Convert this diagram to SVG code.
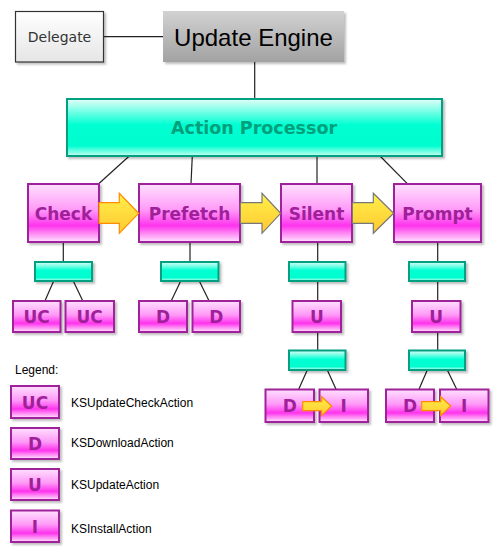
<svg xmlns="http://www.w3.org/2000/svg" width="502" height="556" viewBox="0 0 502 556">
<defs>
<linearGradient id="gMag" x1="0" y1="0" x2="0" y2="1">
<stop offset="0" stop-color="#ffe0ff"/>
<stop offset="0.45" stop-color="#ff99f7"/>
<stop offset="0.72" stop-color="#ff33ee"/>
<stop offset="0.85" stop-color="#ff88f4"/>
<stop offset="1" stop-color="#ffe4ff"/>
</linearGradient>
<linearGradient id="gTeal" x1="0" y1="0" x2="0" y2="1">
<stop offset="0" stop-color="#e4fff9"/>
<stop offset="0.45" stop-color="#00ffd2"/>
<stop offset="0.82" stop-color="#00fdd0"/>
<stop offset="1" stop-color="#ccfff2"/>
</linearGradient>
<linearGradient id="gGray" x1="0" y1="0" x2="0" y2="1">
<stop offset="0" stop-color="#d2d2d2"/>
<stop offset="1" stop-color="#a2a2a2"/>
</linearGradient>
<linearGradient id="gWhite" x1="0" y1="0" x2="0" y2="1">
<stop offset="0" stop-color="#ffffff"/>
<stop offset="1" stop-color="#e6e6e6"/>
</linearGradient>
<linearGradient id="gYel" x1="0" y1="0" x2="0" y2="1">
<stop offset="0" stop-color="#fff04a"/>
<stop offset="1" stop-color="#ffc830"/>
</linearGradient>
<filter id="sh" x="-10%" y="-10%" width="130%" height="140%">
<feDropShadow dx="2" dy="2" stdDeviation="1" flood-color="#000" flood-opacity="0.25"/>
</filter>
</defs>
<style>
.mag{fill:url(#gMag);stroke:#a0209a;stroke-width:2;filter:url(#sh)}
.teal{fill:url(#gTeal);stroke:#00a080;stroke-width:2;filter:url(#sh)}
.mt{font-family:"DejaVu Sans",Verdana,sans-serif;font-weight:bold;font-size:17px;fill:#a0209a;text-anchor:middle}
.lt{font-family:"Liberation Sans",Arial,sans-serif;font-size:12px;fill:#000}
.ln{stroke:#222;stroke-width:1.2;fill:none}
.arO{fill:url(#gYel);stroke:#ff8c00;stroke-width:1.2}
.arG{fill:url(#gYel);stroke:#777;stroke-width:1.2}
</style>
<rect width="502" height="556" fill="#fff"/>
<g id="connectors">
<line class="ln" x1="103.5" y1="36.7" x2="163" y2="36.7"/>
<line class="ln" x1="254.7" y1="62" x2="254.7" y2="99"/>
<line class="ln" x1="129.3" y1="156" x2="98.7" y2="183.7"/>
<line class="ln" x1="192.3" y1="156" x2="191" y2="183.7"/>
<line class="ln" x1="317" y1="156" x2="317" y2="183.7"/>
<line class="ln" x1="380" y1="156" x2="407.3" y2="183.7"/>
<line class="ln" x1="63.3" y1="242.3" x2="63.3" y2="261.7"/>
<line class="ln" x1="190" y1="242.3" x2="190" y2="261.7"/>
<line class="ln" x1="317.7" y1="242.3" x2="317.7" y2="261.7"/>
<line class="ln" x1="437.7" y1="242.3" x2="437.7" y2="261.7"/>
<line class="ln" x1="53.7" y1="281" x2="45" y2="300.7"/>
<line class="ln" x1="73.3" y1="281" x2="82.7" y2="300.7"/>
<line class="ln" x1="180.7" y1="281" x2="171.3" y2="300.7"/>
<line class="ln" x1="199.3" y1="281" x2="209" y2="300.7"/>
<line class="ln" x1="317.7" y1="281" x2="317.7" y2="300.7"/>
<line class="ln" x1="437.7" y1="281" x2="437.7" y2="300.7"/>
<line class="ln" x1="317.7" y1="332" x2="317.7" y2="350.3"/>
<line class="ln" x1="437.7" y1="332" x2="437.7" y2="350.3"/>
<line class="ln" x1="307.3" y1="370" x2="298.7" y2="389.3"/>
<line class="ln" x1="327.3" y1="370" x2="336" y2="389.3"/>
<line class="ln" x1="427.3" y1="370" x2="419" y2="389.3"/>
<line class="ln" x1="447.3" y1="370" x2="456.7" y2="389.3"/>
</g>
<g id="delegate">
<rect x="15.5" y="11.5" width="88" height="50.5" fill="url(#gWhite)" stroke="#333" stroke-width="1.2" filter="url(#sh)"/>
<text x="59.5" y="42" font-family="DejaVu Sans,Verdana,sans-serif" font-size="14" fill="#333" text-anchor="middle">Delegate</text>
</g>
<g id="update-engine">
<rect x="163" y="11" width="181" height="51" fill="url(#gGray)" filter="url(#sh)"/>
<text x="253.5" y="46" font-family="Liberation Sans,Arial,sans-serif" font-size="24" fill="#000" text-anchor="middle">Update Engine</text>
</g>
<g id="action-processor">
<rect class="teal" x="67" y="99" width="375" height="57"/>
<text x="254" y="134" font-family="DejaVu Sans,Verdana,sans-serif" font-weight="bold" font-size="17.5" fill="#00a07c" text-anchor="middle">Action Processor</text>
</g>
<g id="check"><rect class="mag" x="28" y="184" width="71" height="58"/><text class="mt" x="63.5" y="220">Check</text></g>
<g id="prefetch"><rect class="mag" x="139" y="184" width="101" height="58"/><text class="mt" x="189.5" y="220">Prefetch</text></g>
<g id="silent"><rect class="mag" x="281" y="184" width="71" height="58"/><text class="mt" x="316.5" y="220">Silent</text></g>
<g id="prompt"><rect class="mag" x="394" y="184" width="87" height="58"/><text class="mt" x="437.5" y="220">Prompt</text></g>
<g id="proc-check"><rect class="teal" x="35" y="262" width="57" height="19"/></g>
<g id="proc-prefetch"><rect class="teal" x="161" y="262" width="57.5" height="19"/></g>
<g id="proc-silent"><rect class="teal" x="289" y="262" width="56.5" height="19"/></g>
<g id="proc-prompt"><rect class="teal" x="409" y="262" width="56" height="19"/></g>
<g id="uc1"><rect class="mag" x="13" y="301" width="47.5" height="31"/><text class="mt" x="36.7" y="322.7">UC</text></g>
<g id="uc2"><rect class="mag" x="65.5" y="301" width="48.5" height="31"/><text class="mt" x="89.7" y="322.7">UC</text></g>
<g id="d1"><rect class="mag" x="139" y="301" width="48" height="31"/><text class="mt" x="163" y="322.7">D</text></g>
<g id="d2"><rect class="mag" x="192.5" y="301" width="47.5" height="31"/><text class="mt" x="216.3" y="322.7">D</text></g>
<g id="u-silent"><rect class="mag" x="292.5" y="301" width="48.5" height="31"/><text class="mt" x="316.8" y="322.7">U</text></g>
<g id="u-prompt"><rect class="mag" x="412" y="301" width="48.5" height="31"/><text class="mt" x="436.2" y="322.7">U</text></g>
<g id="proc-silent2"><rect class="teal" x="289" y="350.5" width="56.5" height="19.5"/></g>
<g id="proc-prompt2"><rect class="teal" x="409" y="350.5" width="56" height="19.5"/></g>
<g id="d-silent"><rect class="mag" x="265.5" y="389.5" width="48.5" height="32.5"/><text class="mt" x="289.7" y="412">D</text></g>
<g id="i-silent"><rect class="mag" x="319.5" y="389.5" width="48.5" height="32.5"/><text class="mt" x="343.7" y="412">I</text></g>
<g id="d-prompt"><rect class="mag" x="386" y="389.5" width="48" height="32.5"/><text class="mt" x="410" y="412">D</text></g>
<g id="i-prompt"><rect class="mag" x="440" y="389.5" width="48.5" height="32.5"/><text class="mt" x="464.2" y="412">I</text></g>
<g id="arrows">
<polygon class="arO" points="99,202.7 119.3,202.7 119.3,193.3 138.7,213.3 119.3,233.3 119.3,223.3 99,223.3"/>
<polygon class="arG" points="240.3,202.7 262,202.7 262,193.3 280.7,213.3 262,233.3 262,223.3 240.3,223.3"/>
<polygon class="arG" points="352.3,202.7 373.3,202.7 373.3,193.3 393.7,213.3 373.3,233.3 373.3,223.3 352.3,223.3"/>
<polygon class="arO" points="302.7,401.7 321.7,401.7 321.7,396.7 331.7,406 321.7,415.7 321.7,410.7 302.7,410.7"/>
<polygon class="arO" points="421.7,401.7 440.7,401.7 440.7,396.7 450.7,406 440.7,415.7 440.7,410.7 421.7,410.7"/>
</g>
<g id="legend">
<text class="lt" x="15" y="374">Legend:</text>
<rect class="mag" x="11" y="386" width="48" height="32"/><text class="mt" x="35" y="408.5">UC</text>
<text class="lt" x="71" y="406.7">KSUpdateCheckAction</text>
<rect class="mag" x="11" y="428" width="48" height="31"/><text class="mt" x="35" y="450">D</text>
<text class="lt" x="71" y="447.3">KSDownloadAction</text>
<rect class="mag" x="11" y="469" width="48" height="31"/><text class="mt" x="35" y="491">U</text>
<text class="lt" x="71" y="489.3">KSUpdateAction</text>
<rect class="mag" x="11" y="510.5" width="48" height="31.5"/><text class="mt" x="35" y="532.5">I</text>
<text class="lt" x="71" y="533.3">KSInstallAction</text>
</g>
</svg>
